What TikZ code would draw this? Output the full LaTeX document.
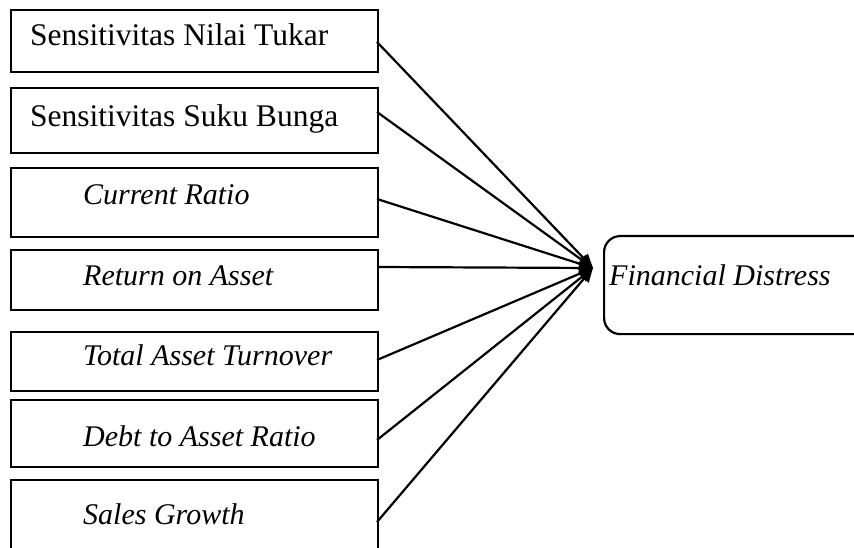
\documentclass[tikz,border=0pt]{standalone}
\usepackage{fontspec}
\setmainfont{Liberation Serif}
\usetikzlibrary{arrows.meta}
\begin{document}
\begin{tikzpicture}[x=1pt,y=-1pt,
  boxline/.style={draw,line width=2.2pt},
  lbl/.style={anchor=base west,inner sep=0pt,font=\fontsize{31.5}{34}\selectfont},
  ilbl/.style={lbl,font=\fontsize{30}{33}\selectfont\itshape},
  conn/.style={line width=2.2pt,-{Triangle[length=14pt,width=12pt]}}]
\clip (0,0) rectangle (854,548);
\fill[white] (0,0) rectangle (854,548);
\useasboundingbox (0,0) rectangle (854,548);
% input boxes
\node[boxline,rectangle,inner sep=0pt,minimum width=367pt,minimum height=62pt,anchor=north west] (b1) at (10,9) {};
\node[boxline,rectangle,inner sep=0pt,minimum width=367pt,minimum height=65pt,anchor=north west] (b2) at (10,87) {};
\node[boxline,rectangle,inner sep=0pt,minimum width=367pt,minimum height=69pt,anchor=north west] (b3) at (10,167) {};
\node[boxline,rectangle,inner sep=0pt,minimum width=367pt,minimum height=60pt,anchor=north west] (b4) at (10,249) {};
\node[boxline,rectangle,inner sep=0pt,minimum width=367pt,minimum height=59pt,anchor=north west] (b5) at (10,331) {};
\node[boxline,rectangle,inner sep=0pt,minimum width=367pt,minimum height=67pt,anchor=north west] (b6) at (10,399) {};
\node[boxline,rectangle,inner sep=0pt,minimum width=367pt,minimum height=90pt,anchor=north west] (b7) at (10,479) {};
% target box
\node[boxline,rectangle,rounded corners=16pt,inner sep=0pt,minimum width=270pt,minimum height=98pt,anchor=north west] (fd) at (603,235) {};
% labels
\node[lbl] (t1) at (30,46) {Sensitivitas Nilai Tukar};
\node[lbl] (t2) at (30,127) {Sensitivitas Suku Bunga};
\node[ilbl] (t3) at (83,205) {Current Ratio};
\node[ilbl] (t4) at (83,285) {Return on Asset};
\node[ilbl] (t5) at (83,365) {Total Asset Turnover};
\node[ilbl] (t6) at (83,446) {Debt to Asset Ratio};
\node[ilbl] (t7) at (83,524) {Sales Growth};
\node[ilbl] (t8) at (609,285) {Financial Distress};
% connector ends
\coordinate (s1) at (377,42);
\coordinate (s2) at (377,112);
\coordinate (s3) at (377,199);
\coordinate (s4) at (377,267);
\coordinate (s5) at (377,360);
\coordinate (s6) at (377,440);
\coordinate (s7) at (377,522);
\coordinate (tip) at (593,268);
\foreach \i in {1,...,7}{\draw[conn] (s\i) -- (tip);}
\end{tikzpicture}
\end{document}
